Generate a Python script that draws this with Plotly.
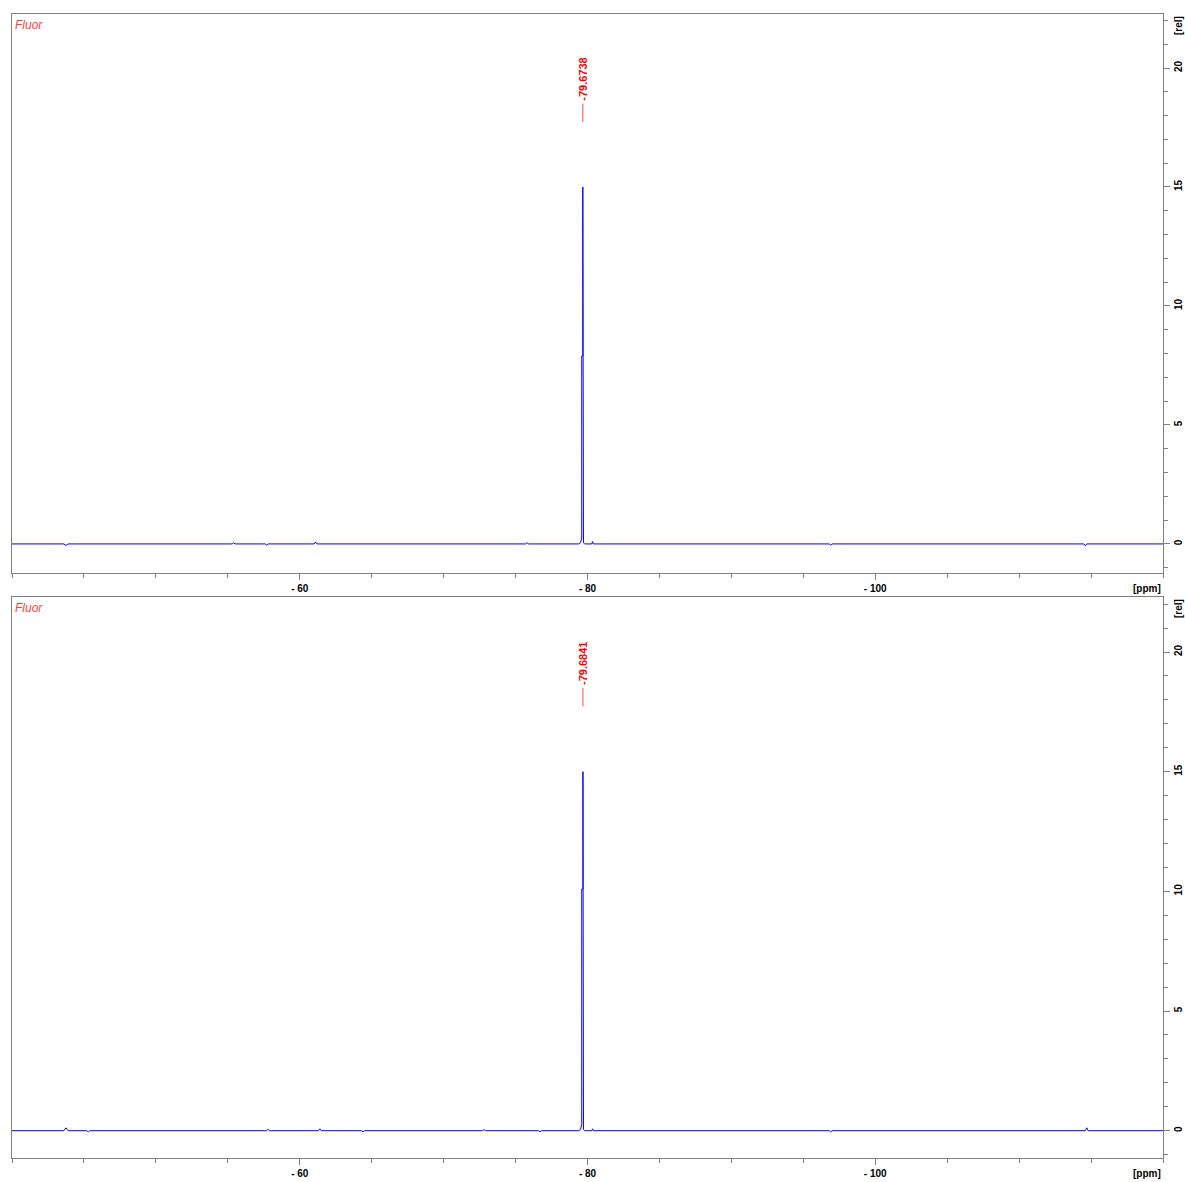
import plotly.graph_objects as go

# ---- 19F spectra (ppm, relative intensity) ----
ppm_top = [-40.0, -43.6, -43.75, -43.9, -55.3, -55.4, -55.5, -57.6, -57.7, -57.8,
           -61.0, -61.1, -61.2, -75.7, -75.8, -75.9, -79.40, -79.52, -79.60, -79.60,
           -79.6738, -79.6738, -79.72, -79.80, -80.30, -80.35, -80.40, -96.8, -96.9,
           -97.0, -114.5, -114.6, -114.7, -120.0]
int_top = [0.0, 0.0, -0.06, 0.0, 0.0, 0.05, 0.0, 0.0, -0.05, 0.0,
           0.0, 0.08, 0.0, 0.0, 0.05, 0.0, 0.0, 0.06, 0.25, 7.9,
           7.9, 15.0, 0.05, 0.0, 0.0, 0.1, 0.0, 0.0, -0.05,
           0.0, 0.0, -0.08, 0.0, 0.0]

ppm_bot = [-40.0, -43.6, -43.75, -43.9, -45.2, -45.3, -45.4, -57.7, -57.8, -57.9,
           -61.3, -61.4, -61.5, -64.3, -64.4, -64.5, -72.7, -72.8, -72.9, -76.6,
           -76.7, -76.8, -79.40, -79.52, -79.60, -79.60, -79.6841, -79.6841, -79.72,
           -79.80, -80.30, -80.35, -80.40, -96.8, -96.9, -97.0, -114.6, -114.7,
           -114.8, -120.0]
int_bot = [0.0, 0.0, 0.12, 0.0, 0.0, -0.05, 0.0, 0.0, 0.06, 0.0,
           0.0, 0.08, 0.0, 0.0, -0.05, 0.0, 0.0, 0.05, 0.0, 0.0,
           -0.05, 0.0, 0.0, 0.06, 0.25, 10.1, 10.1, 15.0, 0.05,
           0.0, 0.0, 0.08, 0.0, 0.0, -0.05, 0.0, 0.0, 0.12,
           0.0, 0.0]

peak_top = -79.6738
peak_bot = -79.6841
peak_mark = [17.73, 18.50]     # red tick above the peak
label_y = 19.54

x_ticks = [-60, -80, -100]
x_ticktext = ["- 60", "- 80", "- 100"]
y_ticks = [0, 5, 10, 15, 20]
y_ticktext = ["0", "5", "10", "15", "20"]

x_range = [-40, -120]
y_range_top = [-1.22, 22.27]
y_range_bot = [-1.14, 22.30]

BLUE = "#0000ff"
RED = "#ff0000"
FRAME = "#808080"
TICKFONT = dict(family="Liberation Sans", size=10, color="black", weight="bold")

fig = go.Figure()

panels = [
    ("x", "y", ppm_top, int_top, peak_top),
    ("x2", "y2", ppm_bot, int_bot, peak_bot),
]
for xa, ya, px, py, pk in panels:
    fig.add_trace(go.Scatter(x=px, y=py, mode="lines", xaxis=xa, yaxis=ya,
                             line=dict(color=BLUE, width=1), hoverinfo="skip",
                             showlegend=False))
    fig.add_trace(go.Scatter(x=[pk, pk], y=peak_mark, mode="lines", xaxis=xa, yaxis=ya,
                             line=dict(color=RED, width=1), opacity=0.7,
                             hoverinfo="skip", showlegend=False))
    fig.add_annotation(x=pk, y=label_y, xref=xa, yref=ya, text=f"{pk:.4f}",
                       showarrow=False, textangle=-90, xanchor="center", yanchor="middle",
                       font=dict(family="Liberation Sans", size=11, color=RED, weight="bold"))
    fig.add_annotation(x=0.0, y=1.0, xref=f"{xa} domain", yref=f"{ya} domain",
                       text="<i>Fluor</i>", showarrow=False, xanchor="left", yanchor="top",
                       xshift=1, yshift=-2,
                       font=dict(family="Liberation Sans", size=12, color="#ff4040"))
    fig.add_annotation(x=1.0, y=0.0, xref=f"{xa} domain", yref=f"{ya} domain",
                       text="[ppm]", showarrow=False, xanchor="right", yanchor="top",
                       xshift=0, yshift=-8, font=TICKFONT)
    fig.add_annotation(x=1.0, y=1.0, xref=f"{xa} domain", yref=f"{ya} domain",
                       text="[rel]", showarrow=False, textangle=-90, xanchor="left",
                       yanchor="top", xshift=8, yshift=0, font=TICKFONT)

xaxis_common = dict(
    range=x_range, showline=True, linecolor=FRAME, linewidth=1, mirror=True,
    showgrid=False, zeroline=False, ticks="outside", ticklen=6, tickcolor=FRAME,
    tickvals=x_ticks, ticktext=x_ticktext, tickfont=TICKFONT, automargin=False,
    minor=dict(dtick=5, tick0=0, ticks="outside", ticklen=4, tickcolor=FRAME, showgrid=False),
)
yaxis_common = dict(
    side="right", showline=True, linecolor=FRAME, linewidth=1, mirror=True,
    showgrid=False, zeroline=False, ticks="outside", ticklen=6, tickcolor=FRAME,
    tickvals=y_ticks, ticktext=y_ticktext, tickangle=-90, tickfont=TICKFONT,
    automargin=False, ticklabelstandoff=0,
    minor=dict(dtick=1, tick0=0, ticks="outside", ticklen=4, tickcolor=FRAME, showgrid=False),
)

fig.update_layout(
    width=1185, height=1182,
    margin=dict(l=12, r=22, t=14, b=24),
    paper_bgcolor="white", plot_bgcolor="white",
    xaxis=dict(**xaxis_common, anchor="y"),
    yaxis=dict(**yaxis_common, range=y_range_top, anchor="x", domain=[0.5114, 1.0]),
    xaxis2=dict(**xaxis_common, anchor="y2"),
    yaxis2=dict(**yaxis_common, range=y_range_bot, anchor="x2", domain=[0.0, 0.4904]),
)

fig.write_html("out.html", config={"displayModeBar": False})
